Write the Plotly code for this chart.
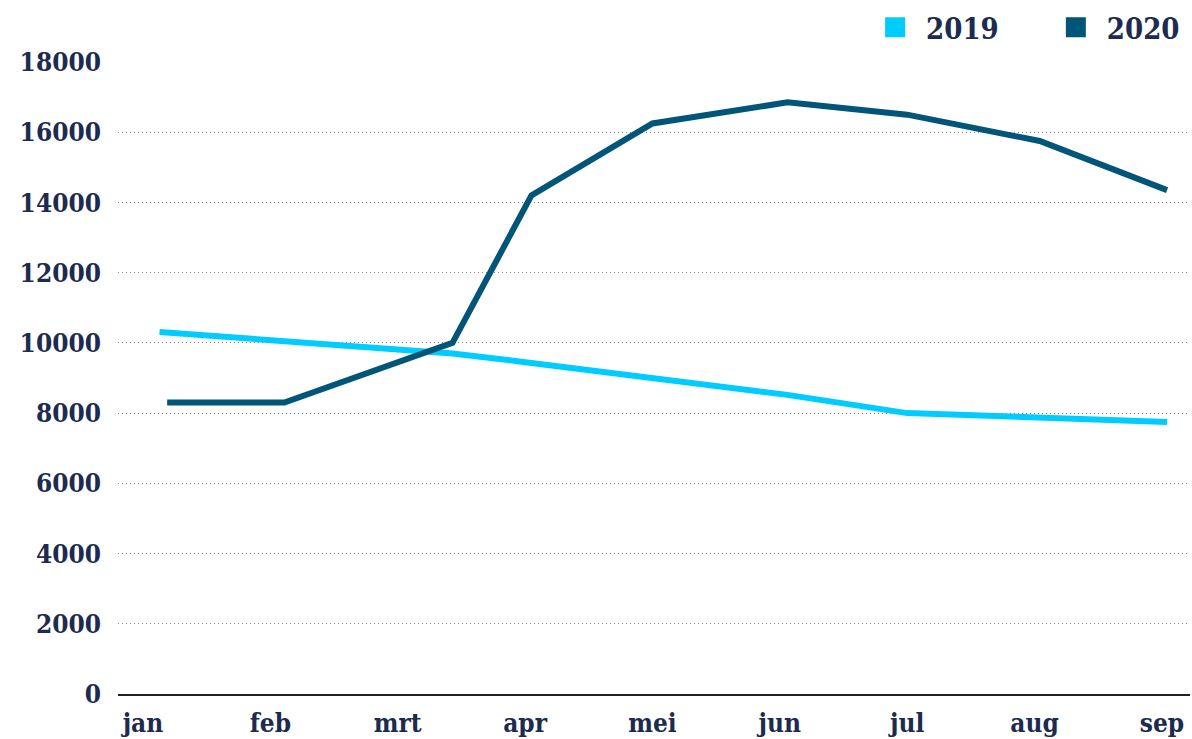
import plotly.graph_objects as go

# ---- data ----
months = ["jan", "feb", "mrt", "apr", "mei", "jun", "jul", "aug", "sep"]
month_pos = [0, 1, 2, 3, 4, 5, 6, 7, 8]
y_ticks = [0, 2000, 4000, 6000, 8000, 10000, 12000, 14000, 16000, 18000]

x_2019 = [0.13, 1.11, 2.43, 3.05, 4.00, 5.06, 6.00, 7.04, 8.04]
y_2019 = [10310, 10050, 9700, 9430, 9000, 8520, 8000, 7860, 7750]

x_2020 = [0.19, 1.11, 2.43, 3.05, 4.00, 5.06, 6.00, 7.04, 8.04]
y_2020 = [8300, 8300, 10000, 14200, 16250, 16850, 16500, 15750, 14350]

series_names = ["2019", "2020"]
legend_ids = ["legend", "legend2"]
colors = ["#00CCFF", "#005578"]
text_color = "#1C2B4F"
font_family = "DejaVu Serif Condensed"

fig = go.Figure()

for name, xs, ys, col in zip(series_names, [x_2019, x_2020], [y_2019, y_2020], colors):
    fig.add_trace(go.Scatter(
        x=xs, y=ys, mode="lines", name=name, showlegend=False,
        line=dict(color=col, width=6),
        hoverinfo="skip",
    ))

for name, col, lid in zip(series_names, colors, legend_ids):
    fig.add_trace(go.Scatter(
        x=[None], y=[None], mode="markers", name=name, legend=lid,
        marker=dict(symbol="square", size=16, color=col,
                    line=dict(color=col, width=4)),
    ))

legend_font = dict(family=font_family, size=29, color=text_color, weight="bold")
legend_common = dict(orientation="h", xanchor="left", yanchor="middle", y=1.0546,
                     font=legend_font, itemwidth=52, bgcolor="rgba(0,0,0,0)",
                     borderwidth=0)

fig.update_layout(
    width=1192, height=739,
    margin=dict(l=118, r=2, t=62, b=45),
    paper_bgcolor="white", plot_bgcolor="white",
    font=dict(family=font_family, color=text_color, size=26, weight="bold"),
    showlegend=True,
    legend=dict(x=0.696, **legend_common),
    legend2=dict(x=0.8646, **legend_common),
    xaxis=dict(
        range=[-0.196, 8.22],
        tickmode="array", tickvals=month_pos, ticktext=months,
        showgrid=False, zeroline=False,
        showline=True, linecolor="#222222", linewidth=2,
        ticks="", ticklabelstandoff=5, automargin=False,
        fixedrange=True,
    ),
    yaxis=dict(
        range=[0, 18000],
        tickmode="array", tickvals=y_ticks,
        ticktext=[str(v) for v in y_ticks],
        showgrid=True, gridcolor="#8A8A8A", gridwidth=1.2, griddash="1px,3px",
        zeroline=False, showline=False,
        ticks="", ticklabelstandoff=16, automargin=False,
        fixedrange=True,
    ),
)

fig.write_html("out.html", config={"displayModeBar": False},
               post_script="document.body.style.margin='0';")
